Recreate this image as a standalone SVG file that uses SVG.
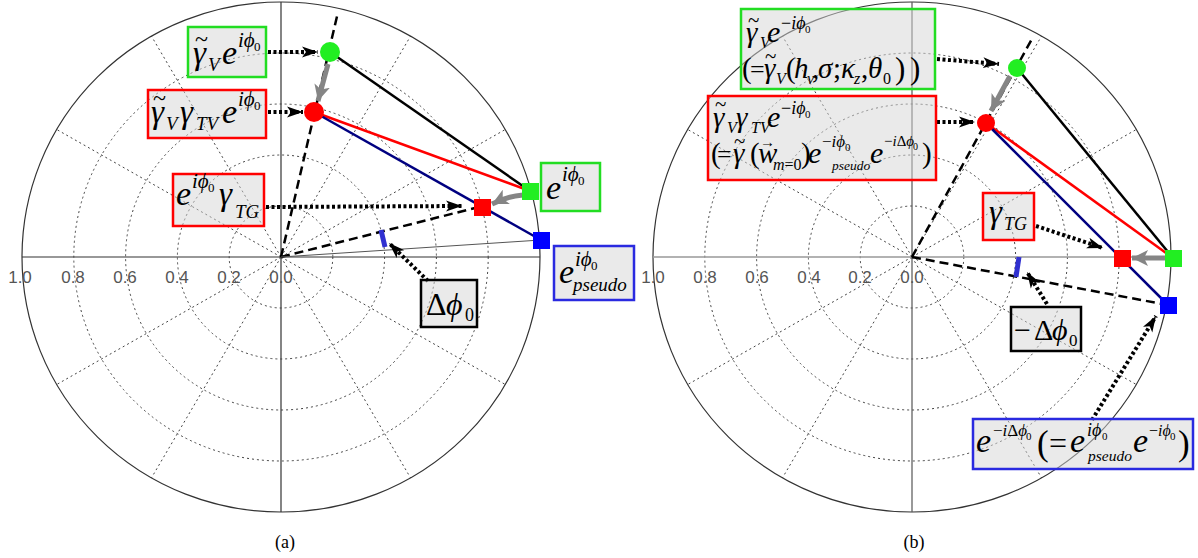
<svg xmlns="http://www.w3.org/2000/svg" width="1198" height="558" viewBox="0 0 1198 558">
<style>
.grid{fill:none;stroke:#444;stroke-width:1;stroke-dasharray:2 3}
.outer{fill:none;stroke:#333;stroke-width:1.2}
.tick{font-family:"Liberation Sans",Arial,sans-serif;font-size:17px;fill:#555;text-anchor:middle}
.cap{font-family:"Liberation Serif","Times New Roman",serif;font-size:18px;fill:#000;text-anchor:middle}
.bx{fill:#d6d6d6;fill-opacity:0.5;stroke-width:2.5}
.mi{font-family:"Liberation Serif","Times New Roman",serif;font-style:italic;fill:#000}
.mr{font-family:"Liberation Serif","Times New Roman",serif;font-style:normal;fill:#000}
.dot{fill:none;stroke:#000;stroke-width:4;stroke-dasharray:3 2.5}
.dash{fill:none;stroke:#000;stroke-width:2.5;stroke-dasharray:9 5}
.garr{fill:none;stroke:#858585;stroke-width:5}
</style>
<defs>
<marker id="ah" markerUnits="userSpaceOnUse" markerWidth="18" markerHeight="12" refX="16" refY="6" orient="auto">
<path d="M0,0.5 L16,6 L0,11.5 L4,6 z" fill="#000"/>
</marker>
<marker id="ahg" markerUnits="userSpaceOnUse" markerWidth="18" markerHeight="16" refX="16" refY="8" orient="auto">
<path d="M0,0 L16,8 L0,16 L4,8 z" fill="#858585"/>
</marker>
</defs>
<rect width="1198" height="558" fill="#fff"/>

<!-- Panel (a) grid -->
<g id="grid-a">
<ellipse class="grid" cx="281" cy="257" rx="51.8" ry="51"/>
<ellipse class="grid" cx="281" cy="257" rx="103.6" ry="102"/>
<ellipse class="grid" cx="281" cy="257" rx="155.4" ry="153"/>
<ellipse class="grid" cx="281" cy="257" rx="207.2" ry="204"/>
<path class="grid" d="M281,257 L505.3,129.5 M281,257 L410.5,36.2 M281,257 L151.5,36.2 M281,257 L56.7,129.5 M281,257 L56.7,384.5 M281,257 L151.5,477.8 M281,257 L410.5,477.8 M281,257 L505.3,384.5"/>
<ellipse class="outer" cx="281" cy="257" rx="259" ry="255"/>
<line x1="22" y1="257" x2="540" y2="257" stroke="#333" stroke-width="1.2"/>
<line x1="281" y1="2" x2="281" y2="512" stroke="#333" stroke-width="1.2"/>
<text class="tick" x="20" y="283">1.0</text>
<text class="tick" x="73" y="283">0.8</text>
<text class="tick" x="125" y="283">0.6</text>
<text class="tick" x="177" y="283">0.4</text>
<text class="tick" x="229" y="283">0.2</text>
<text class="tick" x="281" y="283">0.0</text>
<text class="cap" x="285" y="548">(a)</text>
</g>

<!-- Panel (b) grid -->
<g id="grid-b">
<ellipse class="grid" cx="912" cy="257" rx="51.8" ry="51"/>
<ellipse class="grid" cx="912" cy="257" rx="103.6" ry="102"/>
<ellipse class="grid" cx="912" cy="257" rx="155.4" ry="153"/>
<ellipse class="grid" cx="912" cy="257" rx="207.2" ry="204"/>
<path class="grid" d="M912,257 L1136.3,129.5 M912,257 L1041.5,36.2 M912,257 L782.5,36.2 M912,257 L687.7,129.5 M912,257 L687.7,384.5 M912,257 L782.5,477.8 M912,257 L1041.5,477.8 M912,257 L1136.3,384.5"/>
<ellipse class="outer" cx="912" cy="257" rx="259" ry="255"/>
<line x1="653" y1="257" x2="1171" y2="257" stroke="#999" stroke-width="1.6"/>
<line x1="912" y1="2" x2="912" y2="512" stroke="#555" stroke-width="1.2"/>
<text class="tick" x="653" y="283">1.0</text>
<text class="tick" x="705" y="283">0.8</text>
<text class="tick" x="757" y="283">0.6</text>
<text class="tick" x="809" y="283">0.4</text>
<text class="tick" x="860" y="283">0.2</text>
<text class="tick" x="912" y="283">0.0</text>
<text class="cap" x="914" y="548">(b)</text>
</g>

<!-- Connectors -->
<g id="connectors">
<line class="dash" x1="281" y1="257" x2="338" y2="12"/>
<line class="dash" x1="281" y1="257" x2="475" y2="208"/>
<line x1="281" y1="257" x2="541" y2="240" stroke="#555" stroke-width="1"/>
<line x1="330" y1="52" x2="530" y2="191" stroke="#000" stroke-width="2.5"/>
<line x1="314" y1="112" x2="530" y2="191" stroke="#f00" stroke-width="2.5"/>
<line x1="314" y1="112" x2="541" y2="240" stroke="#000080" stroke-width="2.5"/>
<line x1="328" y1="64" x2="318" y2="101" class="garr" marker-end="url(#ahg)"/>
<path d="M523,195 Q508,196 492,204" class="garr" marker-end="url(#ahg)"/>
<line class="dot" x1="268" y1="52" x2="318" y2="52" marker-end="url(#ah)"/>
<line class="dot" x1="268" y1="112" x2="303" y2="112" marker-end="url(#ah)"/>
<line class="dot" x1="266" y1="207" x2="462" y2="206" marker-end="url(#ah)"/>
<line class="dot" x1="428" y1="281" x2="389" y2="243" marker-end="url(#ah)"/>
<line x1="381" y1="230" x2="385" y2="247" stroke="#3030d0" stroke-width="5"/>
<line class="dash" x1="912" y1="257" x2="1033" y2="37"/>
<line class="dash" x1="912" y1="257" x2="1168" y2="305"/>
<line x1="1017" y1="68" x2="1173" y2="258" stroke="#000" stroke-width="2.5"/>
<line x1="986" y1="123" x2="1173" y2="258" stroke="#f00" stroke-width="2.5"/>
<line x1="986" y1="123" x2="1168" y2="305" stroke="#000080" stroke-width="2.5"/>
<line x1="1010" y1="76" x2="991" y2="111" class="garr" marker-end="url(#ahg)"/>
<line x1="1165" y1="258" x2="1132" y2="258" class="garr" marker-end="url(#ahg)"/>
<line class="dot" x1="937" y1="59" x2="999" y2="64" stroke-width="4.5" marker-end="url(#ah)"/>
<line class="dot" x1="937" y1="122" x2="975" y2="122" stroke-width="4.5" marker-end="url(#ah)"/>
<line class="dot" x1="1036" y1="226" x2="1103" y2="248" stroke-width="5.5" stroke-dasharray="5 3" marker-end="url(#ah)"/>
<line class="dot" x1="1047" y1="304" x2="1027" y2="272" stroke-width="4.5" marker-end="url(#ah)"/>
<line class="dot" x1="1092" y1="420" x2="1156" y2="316" stroke-width="4.5" marker-end="url(#ah)"/>
<line x1="1019" y1="257" x2="1016" y2="277" stroke="#3030d0" stroke-width="5"/>
</g>

<g id="pt-a-green-circle"><circle cx="330" cy="52" r="10" fill="#22ee22"/></g>
<g id="pt-a-red-circle"><circle cx="314" cy="112" r="10" fill="#f00"/></g>
<g id="pt-a-green-square"><rect x="522" y="183" width="17" height="17" fill="#22ee22"/></g>
<g id="pt-a-red-square"><rect x="474" y="199" width="17" height="17" fill="#f00"/></g>
<g id="pt-a-blue-square"><rect x="533" y="232" width="17" height="17" fill="#00f"/></g>
<g id="pt-b-green-circle"><circle cx="1017" cy="68" r="9" fill="#22ee22"/></g>
<g id="pt-b-red-circle"><circle cx="986" cy="123" r="9" fill="#f00"/></g>
<g id="pt-b-green-square"><rect x="1165" y="250" width="17" height="17" fill="#22ee22"/></g>
<g id="pt-b-red-square"><rect x="1114" y="250" width="17" height="17" fill="#f00"/></g>
<g id="pt-b-blue-square"><rect x="1160" y="297" width="17" height="17" fill="#00f"/></g>

<g id="lbl-a-gv">
<rect class="bx" x="188" y="27" width="78" height="50" stroke="#22dd22"/>
<text class="mi" font-size="33" x="193" y="64">γ</text>
<text class="mr" font-size="24" x="195" y="47">~</text>
<text class="mi" font-size="19" x="208" y="71">V</text>
<text class="mi" font-size="34" x="222" y="64">e</text>
<text class="mi" font-size="21" x="238" y="47">iϕ</text>
<text class="mr" font-size="13" x="254" y="51">0</text>
</g>
<g id="lbl-a-gvtv">
<rect class="bx" x="148" y="90" width="118" height="48" stroke="#f00"/>
<text class="mi" font-size="33" x="151" y="123">γ</text>
<text class="mr" font-size="24" x="153" y="106">~</text>
<text class="mi" font-size="19" x="166" y="130">V</text>
<text class="mi" font-size="33" x="180" y="123">γ</text>
<text class="mi" font-size="19" x="196" y="130">TV</text>
<text class="mi" font-size="34" x="222" y="123">e</text>
<text class="mi" font-size="21" x="238" y="106">iϕ</text>
<text class="mr" font-size="13" x="254" y="110">0</text>
</g>
<g id="lbl-a-tg">
<rect class="bx" x="173" y="174" width="91" height="52" stroke="#f00"/>
<text class="mi" font-size="34" x="176" y="205">e</text>
<text class="mi" font-size="21" x="192" y="188">iϕ</text>
<text class="mr" font-size="13" x="208" y="192">0</text>
<text class="mi" font-size="33" x="219" y="205">γ</text>
<text class="mi" font-size="19" x="235" y="218">TG</text>
</g>
<g id="lbl-a-e">
<rect class="bx" x="541" y="163" width="59" height="48" stroke="#22dd22"/>
<text class="mi" font-size="34" x="546" y="199">e</text>
<text class="mi" font-size="21" x="562" y="181">iϕ</text>
<text class="mr" font-size="13" x="578" y="185">0</text>
</g>
<g id="lbl-a-pseudo">
<rect class="bx" x="554" y="246" width="80" height="54" stroke="#2a2ae0"/>
<text class="mi" font-size="34" x="559" y="283">e</text>
<text class="mi" font-size="21" x="575" y="266">iϕ</text>
<text class="mr" font-size="13" x="591" y="270">0</text>
<text class="mi" font-size="19" x="573" y="291">pseudo</text>
</g>
<g id="lbl-a-dphi">
<rect class="bx" x="421" y="280" width="56" height="47" stroke="#000"/>
<text class="mr" font-size="32" x="426" y="315">Δ</text>
<text class="mi" font-size="32" x="446" y="315">ϕ</text>
<text class="mr" font-size="18" x="465" y="321">0</text>
</g>

<g id="lbl-b-gv">
<rect class="bx" x="741" y="9" width="194" height="80" stroke="#22dd22"/>
<text class="mi" font-size="29" x="746" y="42">γ</text>
<text class="mr" font-size="21" x="748" y="27">~</text>
<text class="mi" font-size="16" x="760" y="48">V</text>
<text class="mi" font-size="30" x="767" y="42">e</text>
<text class="mi" font-size="18" x="781" y="29"><tspan class="mr">−</tspan>iϕ</text>
<text class="mr" font-size="11" x="805" y="33">0</text>
<text class="mr" font-size="29" x="742" y="78">(</text>
<text class="mr" font-size="26" x="750" y="78">=</text>
<text class="mi" font-size="29" x="764" y="78">γ</text>
<text class="mr" font-size="21" x="765" y="63">~</text>
<text class="mi" font-size="16" x="776" y="84">V</text>
<text class="mr" font-size="29" x="786" y="78">(</text>
<text class="mi" font-size="29" x="794" y="78">h</text>
<text class="mi" font-size="16" x="807" y="84">v</text>
<text class="mr" font-size="29" x="812" y="78">,</text>
<text class="mi" font-size="29" x="818" y="78">σ</text>
<text class="mr" font-size="29" x="833" y="78">;</text>
<text class="mi" font-size="29" x="841" y="78">κ</text>
<text class="mi" font-size="16" x="854" y="84">z</text>
<text class="mr" font-size="29" x="861" y="78">,</text>
<text class="mi" font-size="29" x="868" y="78">θ</text>
<text class="mr" font-size="16" x="883" y="84">0</text>
<text class="mr" font-size="31" x="895" y="79">)</text>
<text class="mr" font-size="31" x="910" y="79">)</text>
</g>
<g id="lbl-b-gvtv">
<rect class="bx" x="708" y="96" width="228" height="84" stroke="#f00"/>
<text class="mi" font-size="29" x="713" y="127">γ</text>
<text class="mr" font-size="21" x="715" y="111">~</text>
<text class="mi" font-size="16" x="727" y="133">V</text>
<text class="mi" font-size="29" x="736" y="127">γ</text>
<text class="mi" font-size="16" x="751" y="133">TV</text>
<text class="mi" font-size="30" x="767" y="127">e</text>
<text class="mi" font-size="18" x="781" y="114"><tspan class="mr">−</tspan>iϕ</text>
<text class="mr" font-size="11" x="805" y="118">0</text>
<text class="mr" font-size="29" x="711" y="163">(</text>
<text class="mr" font-size="26" x="717" y="163">=</text>
<text class="mi" font-size="29" x="733" y="163">γ</text>
<text class="mr" font-size="21" x="734" y="148">~</text>
<text class="mr" font-size="29" x="750" y="163">(</text>
<text class="mi" font-size="29" x="758" y="163">w</text>
<text class="mr" font-size="15" x="760" y="147">→</text>
<text class="mi" font-size="16" x="773" y="170">m<tspan class="mr">=0</tspan></text>
<text class="mr" font-size="29" x="801" y="163">)</text>
<text class="mi" font-size="30" x="808" y="163">e</text>
<text class="mi" font-size="17" x="822" y="147"><tspan class="mr">−</tspan>iϕ</text>
<text class="mr" font-size="11" x="845" y="151">0</text>
<text class="mi" font-size="13.5" x="832" y="170">pseudo</text>
<text class="mi" font-size="30" x="870" y="163">e</text>
<text class="mi" font-size="15" x="884" y="146"><tspan class="mr">−</tspan>i<tspan class="mr">Δ</tspan>ϕ</text>
<text class="mr" font-size="10" x="913" y="150">0</text>
<text class="mr" font-size="29" x="922" y="163">)</text>
</g>
<g id="lbl-b-tg">
<rect class="bx" x="983" y="193" width="51" height="47" stroke="#f00"/>
<text class="mi" font-size="33" x="989" y="223">γ</text>
<text class="mi" font-size="18" x="1004" y="230">TG</text>
</g>
<g id="lbl-b-dphi">
<rect class="bx" x="1011" y="307" width="70" height="44" stroke="#000"/>
<text class="mr" font-size="30" x="1014" y="340">−</text>
<text class="mr" font-size="30" x="1034" y="340">Δ</text>
<text class="mi" font-size="30" x="1052" y="340">ϕ</text>
<text class="mr" font-size="17" x="1069" y="346">0</text>
</g>
<g id="lbl-b-pseudo">
<rect class="bx" x="973" y="419" width="220" height="50" stroke="#2a2ae0"/>
<text class="mi" font-size="34" x="976" y="452">e</text>
<text class="mi" font-size="17" x="993" y="436"><tspan class="mr">−</tspan>i<tspan class="mr">Δ</tspan>ϕ</text>
<text class="mr" font-size="11" x="1026" y="440">0</text>
<text class="mr" font-size="35" x="1037" y="455">(</text>
<text class="mr" font-size="32" x="1049" y="454">=</text>
<text class="mi" font-size="34" x="1070" y="452">e</text>
<text class="mi" font-size="18" x="1087" y="436">iϕ</text>
<text class="mr" font-size="11" x="1102" y="440">0</text>
<text class="mi" font-size="15.5" x="1088" y="461">pseudo</text>
<text class="mi" font-size="34" x="1133" y="452">e</text>
<text class="mi" font-size="16" x="1149" y="436"><tspan class="mr">−</tspan>iϕ</text>
<text class="mr" font-size="11" x="1170" y="440">0</text>
<text class="mr" font-size="35" x="1178" y="455">)</text>
</g>
</svg>
